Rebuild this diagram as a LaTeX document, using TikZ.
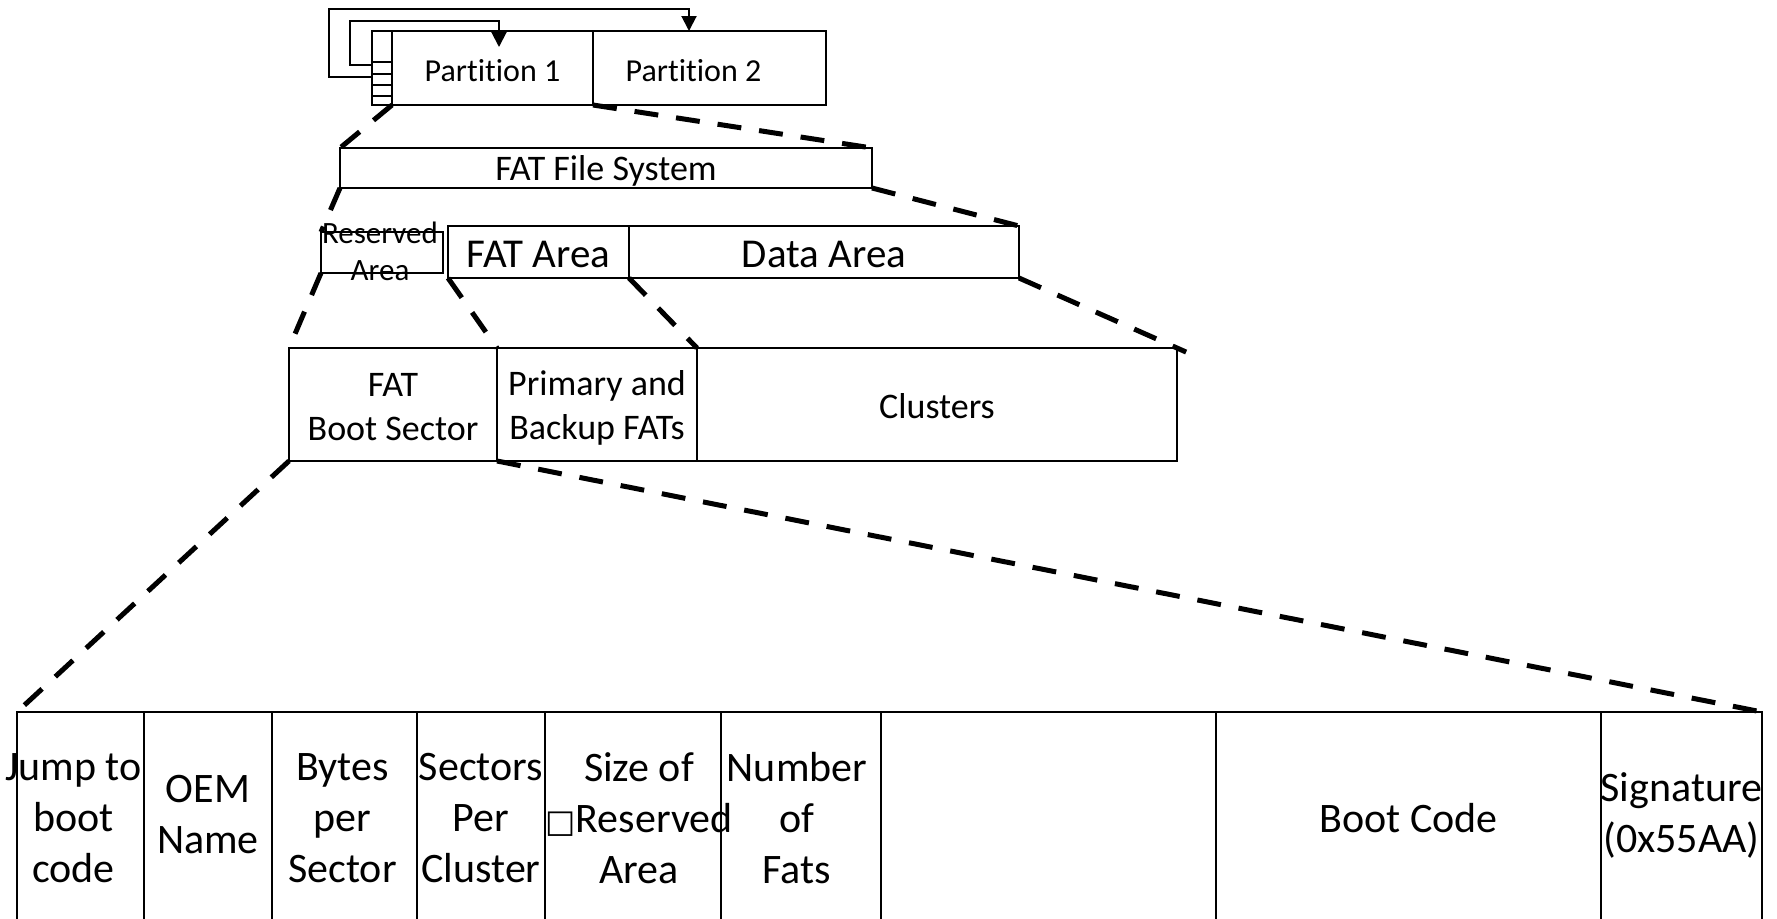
\documentclass[tikz,border=0pt]{standalone}
\usepackage{fontspec}
\setmainfont{Carlito}[Ligatures=CommonOff]
\newfontfamily\symfont{DejaVu Sans}
\usetikzlibrary{arrows.meta}

\tikzset{
  box/.style={draw, line width=2pt, inner sep=0pt, outer sep=0pt, anchor=north west},
  lbl/.style={inner sep=0pt, align=center},
  dashcon/.style={line width=5pt, dash pattern=on 24pt off 18pt},
  link/.style={line width=2pt, -{Triangle[length=15pt,width=15pt]}},
  fPart/.style={font=\fontsize{32}{39}\selectfont},
  fSys/.style={font=\fontsize{36}{44}\selectfont},
  fRes/.style={font=\fontsize{31}{37}\selectfont},
  fArea/.style={font=\fontsize{41}{50}\selectfont},
  fRow/.style={font=\fontsize{36}{44}\selectfont},
  fTab/.style={font=\fontsize{42}{51}\selectfont},
}

\begin{document}
\begin{tikzpicture}[x=1pt, y=-1pt]
  \useasboundingbox (0,0) rectangle (1777,918);
  \clip (0,0) rectangle (1777,918);
  \fill[white] (0,0) rectangle (1777,918);

  % disk: partition table strip and two partitions
  \node[box, minimum width=20pt,  minimum height=74pt] (mbr) at (372,31) {};
  \node[box, minimum width=201pt, minimum height=74pt] (p1)  at (392,31) {};
  \node[box, minimum width=233pt, minimum height=74pt] (p2)  at (593,31) {};
  \foreach \yy in {62,74,85,96}
    \draw[line width=2pt] (372,\yy) -- (392,\yy);
  \node[lbl, fPart] at ([yshift=-3pt]p1.center) {Partition 1};
  \node[lbl, fPart] at ([xshift=-16pt, yshift=-3pt]p2.center) {Partition 2};

  % partition table entries pointing at the partitions
  \coordinate (e1) at (372,65);
  \coordinate (e2) at (372,77);
  \coordinate (t1) at (499,47);
  \coordinate (t2) at (689,31);
  \draw[link] (e1) -| (350,21) -| (t1);
  \draw[link] (e2) -| (329,9) -| (t2);

  % file system
  \node[box, minimum width=532pt, minimum height=40pt] (fs) at (340,148) {};
  \node[lbl, fSys] at ([yshift=-3pt]fs.center) {FAT File System};

  % areas
  \node[box, minimum width=122pt, minimum height=41pt] (res) at (321,232) {};
  \node[lbl, fRes] at ([xshift=-2pt, yshift=1pt]res.center) {Reserved\\Area};
  \node[box, minimum width=181pt, minimum height=52pt] (fa) at (448,226) {};
  \node[box, minimum width=390pt, minimum height=52pt] (da) at (629,226) {};
  \node[lbl, fArea] at ([yshift=-2pt]fa.center) {FAT Area};
  \node[lbl, fArea] at ([yshift=-2pt]da.center) {Data Area};

  % on-disk regions
  \node[box, minimum width=208pt, minimum height=113pt] (bs) at (289,348) {};
  \node[box, minimum width=200pt, minimum height=113pt] (pb) at (497,348) {};
  \node[box, minimum width=480pt, minimum height=113pt] (cl) at (697,348) {};
  \node[lbl, fRow] at ([yshift=-3pt]bs.center) {FAT\\Boot Sector};
  \node[lbl, fRow] at ([yshift=-3pt]pb.center) {Primary and\\Backup FATs};
  \node[lbl, fRow] at ([yshift=-2pt]cl.center) {Clusters};

  % boot sector layout
  \node[box, minimum width=127pt, minimum height=212pt] (c1) at (17,712) {};
  \node[box, minimum width=128pt, minimum height=212pt] (c2) at (144,712) {};
  \node[box, minimum width=145pt, minimum height=212pt] (c3) at (272,712) {};
  \node[box, minimum width=128pt, minimum height=212pt] (c4) at (417,712) {};
  \node[box, minimum width=176pt, minimum height=212pt] (c5) at (545,712) {};
  \node[box, minimum width=160pt, minimum height=212pt] (c6) at (721,712) {};
  \node[box, minimum width=335pt, minimum height=212pt] (c7) at (881,712) {};
  \node[box, minimum width=385pt, minimum height=212pt] (c8) at (1216,712) {};
  \node[box, minimum width=161pt, minimum height=212pt] (c9) at (1601,712) {};

  \node[lbl, fTab] at ([xshift=-7pt]c1.center) {Jump to\\boot\\code};
  \node[lbl, fTab] at ([yshift=3pt]c2.center) {OEM\\Name};
  \node[lbl, fTab] at ([xshift=-2pt]c3.center) {Bytes\\per\\Sector};
  \node[lbl, fTab] at (c4.center) {Sectors\\Per\\Cluster};
  \node[lbl, fTab] at ([xshift=6pt]c5.center) {Size of\\{\symfont\fontsize{32}{32}\selectfont □}Reserved\\Area};
  \node[lbl, fTab] at ([xshift=-4pt]c6.center) {Number\\of\\Fats};
  \node[lbl, fTab] at (c8.center) {Boot Code};
  \node[lbl, fTab] at ([yshift=3pt]c9.center) {Signature\\(0x55AA)};

  % zoom guides between levels
  \draw[dashcon] (p1.south west) -- (fs.north west);
  \draw[dashcon] (p1.south east) -- (fs.north east);
  \draw[dashcon] (fs.south west) -- (res.north west);
  \draw[dashcon] (fs.south east) -- (da.north east);
  \draw[dashcon] (res.south west) -- (bs.north west);
  \draw[dashcon] (fa.south west) -- (pb.north west);
  \draw[dashcon] (fa.south east) -- (pb.north east);
  \draw[dashcon, shorten >=-10pt] (da.south east) -- (cl.north east);
  \draw[dashcon] (bs.south west) -- (c1.north west);
  \draw[dashcon] (bs.south east) -- (c9.north east);
\end{tikzpicture}
\end{document}
